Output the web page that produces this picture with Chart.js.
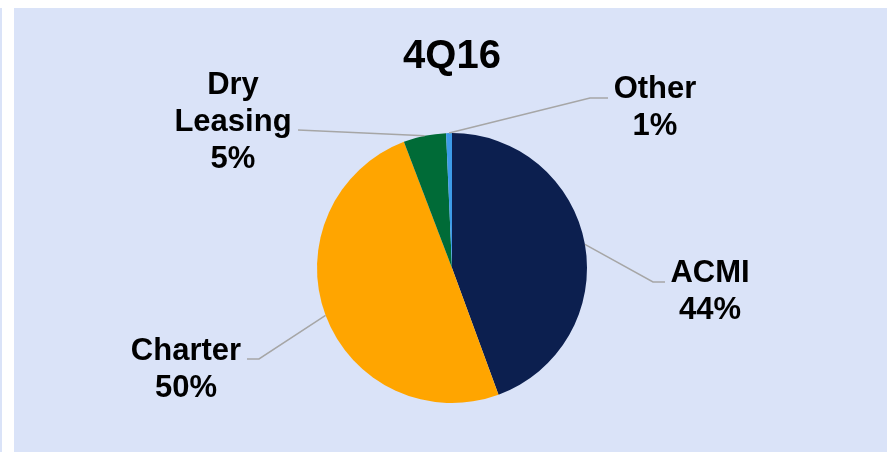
<!DOCTYPE html>
<html>
<head>
<meta charset="utf-8">
<script src="https://cdn.jsdelivr.net/npm/chart.js@4/dist/chart.umd.min.js"></script>
<style>
  html, body { margin: 0; padding: 0; background: #ffffff; width: 887px; height: 452px; overflow: hidden; }
  #strip { position: absolute; left: 0; top: 8px; width: 2px; height: 444px; background: #dae3f8; }
  #panel { position: absolute; left: 14px; top: 8px; width: 873px; height: 444px; background: #dae3f8; }
  #wrap { position: absolute; left: 0; top: 0; width: 887px; height: 452px; }
</style>
</head>
<body>
<div id="strip"></div>
<div id="panel"></div>
<div id="wrap"><canvas id="c" width="887" height="452"></canvas></div>
<script>
// ---- data ----
const title = "4Q16";
const categories = ["ACMI", "Charter", "Dry Leasing", "Other"];
const labelLines = [["ACMI"], ["Charter"], ["Dry", "Leasing"], ["Other"]];
const values = [44.4, 49.8, 5.1, 0.7];
const percentLabels = ["44%", "50%", "5%", "1%"];
const colors = ["#0c1f4f", "#ffa500", "#006b37", "#3d9be9"];

// ---- label layout (text anchor + leader elbow) ----
const labelLayout = [
  { x: 710, y: 282, elbow: [[653, 282], [665, 282]] },
  { x: 186, y: 360, elbow: [[259, 359], [247, 359]] },
  { x: 233, y: 94,  elbow: [[298, 130]] },
  { x: 655, y: 98,  elbow: [[590, 98], [608, 98]] }
];

const FONT = '"Liberation Sans", Arial, sans-serif';

const overlay = {
  id: 'overlay',
  afterDatasetsDraw(chart) {
    const ctx = chart.ctx;
    const meta = chart.getDatasetMeta(0);
    ctx.save();
    // leader lines
    ctx.strokeStyle = '#a6a6a6';
    ctx.lineWidth = 1.5;
    meta.data.forEach((arc, i) => {
      const p = arc.getProps(['x', 'y', 'startAngle', 'endAngle', 'outerRadius'], true);
      const mid = (p.startAngle + p.endAngle) / 2;
      const sx = p.x + Math.cos(mid) * p.outerRadius;
      const sy = p.y + Math.sin(mid) * p.outerRadius;
      ctx.beginPath();
      ctx.moveTo(sx, sy);
      labelLayout[i].elbow.forEach(pt => ctx.lineTo(pt[0], pt[1]));
      ctx.stroke();
    });
    // labels
    ctx.fillStyle = '#000000';
    ctx.textAlign = 'center';
    ctx.textBaseline = 'alphabetic';
    ctx.font = 'bold 31px ' + FONT;
    categories.forEach((c, i) => {
      const lines = labelLines[i].concat([percentLabels[i]]);
      lines.forEach((t, k) => ctx.fillText(t, labelLayout[i].x, labelLayout[i].y + k * 37));
    });
    // title
    ctx.font = 'bold 40px ' + FONT;
    ctx.fillText(title, 452, 68);
    ctx.restore();
  }
};

new Chart(document.getElementById('c'), {
  type: 'pie',
  data: {
    labels: categories,
    datasets: [{
      data: values,
      backgroundColor: colors,
      borderWidth: 0
    }]
  },
  options: {
    responsive: false,
    animation: false,
    layout: { padding: { left: 200, right: 183, top: 133, bottom: 49 } },
    plugins: {
      legend: { display: false },
      tooltip: { enabled: false },
      title: { display: false }
    }
  },
  plugins: [overlay]
});
</script>
</body>
</html>
